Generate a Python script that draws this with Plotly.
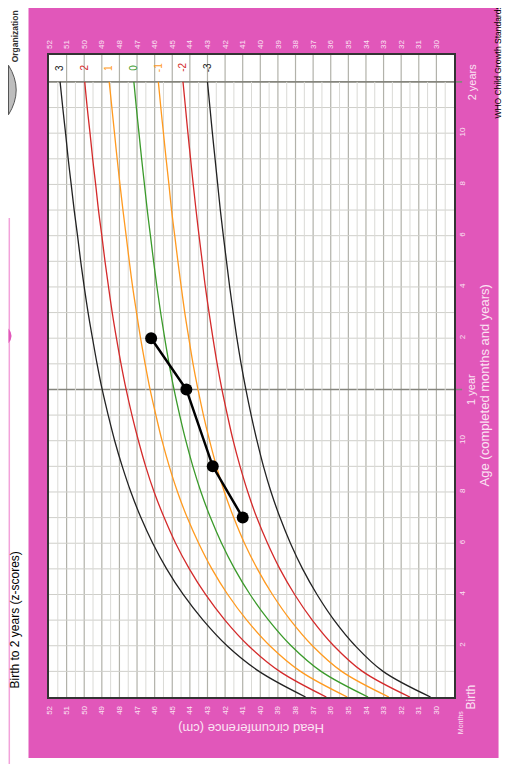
import numpy as np
import plotly.graph_objects as go

# WHO head circumference-for-age, girls, birth to 2 years (cm)
months = list(range(25))
hc_neg3 = [30.33, 33.03, 34.61, 35.81, 36.78, 37.60, 38.29, 38.88, 39.39, 39.82, 40.19, 40.52, 40.82,
           41.09, 41.33, 41.54, 41.74, 41.92, 42.10, 42.27, 42.42, 42.57, 42.72, 42.86, 43.00]
hc_neg2 = [31.51, 34.20, 35.83, 37.05, 38.05, 38.89, 39.59, 40.20, 40.71, 41.15, 41.54, 41.87, 42.18,
           42.45, 42.69, 42.91, 43.12, 43.30, 43.48, 43.65, 43.81, 43.96, 44.11, 44.25, 44.39]
hc_neg1 = [32.70, 35.38, 37.04, 38.29, 39.31, 40.17, 40.90, 41.51, 42.04, 42.49, 42.88, 43.23, 43.54,
           43.82, 44.06, 44.29, 44.49, 44.68, 44.86, 45.04, 45.19, 45.35, 45.50, 45.65, 45.79]
hc_0 = [33.88, 36.55, 38.25, 39.53, 40.58, 41.46, 42.20, 42.83, 43.37, 43.83, 44.23, 44.58, 44.90,
        45.18, 45.43, 45.66, 45.87, 46.06, 46.24, 46.42, 46.58, 46.74, 46.89, 47.04, 47.18]
hc_pos1 = [35.06, 37.72, 39.46, 40.77, 41.85, 42.75, 43.50, 44.15, 44.70, 45.17, 45.58, 45.93, 46.26,
           46.54, 46.80, 47.03, 47.25, 47.44, 47.62, 47.80, 47.97, 48.13, 48.28, 48.43, 48.58]
hc_pos2 = [36.25, 38.90, 40.67, 42.01, 43.11, 44.03, 44.81, 45.46, 46.03, 46.51, 46.92, 47.29, 47.62,
           47.91, 48.17, 48.41, 48.62, 48.82, 49.00, 49.19, 49.35, 49.52, 49.67, 49.83, 49.97]
hc_pos3 = [37.43, 40.07, 41.89, 43.25, 44.38, 45.32, 46.11, 46.78, 47.35, 47.84, 48.27, 48.64, 48.98,
           49.27, 49.53, 49.78, 50.00, 50.20, 50.38, 50.57, 50.74, 50.91, 51.06, 51.22, 51.37]

z_labels = ["3", "2", "1", "0", "-1", "-2", "-3"]
z_colors = ["#222222", "#d42a2a", "#ff9a1f", "#3a9a2a", "#ff9a1f", "#d42a2a", "#222222"]
z_curves = [hc_pos3, hc_pos2, hc_pos1, hc_0, hc_neg1, hc_neg2, hc_neg3]

# child's measurements
child_age = [7, 9, 12, 14]
child_hc = [41.0, 42.7, 44.2, 46.2]

hc_ticks = list(range(30, 53))
age_ticks = [2, 4, 6, 8, 10, 14, 16, 18, 20, 22]
age_ticktext = ["2", "4", "6", "8", "10", "2", "4", "6", "8", "10"]

PINK = "#e157ba"
TICK_C = "#fbe3f3"
FONT = "Liberation Sans, Arial, sans-serif"
x_rng = [52, 29]
y_rng = [0, 25.05]

fig = go.Figure()

for lab, col, hc in zip(z_labels, z_colors, z_curves):
    fig.add_trace(go.Scatter(x=hc, y=months, mode="lines", line=dict(color=col, width=1.3, shape="spline"),
                             showlegend=False, hoverinfo="skip"))
    fig.add_annotation(x=hc[-1], y=24.55, text=lab, textangle=-90, showarrow=False,
                       xanchor="center", yanchor="middle",
                       font=dict(color=col, size=10, family=FONT))

fig.add_trace(go.Scatter(x=child_hc, y=child_age, mode="lines+markers",
                         line=dict(color="black", width=2.5), marker=dict(color="black", size=12),
                         showlegend=False))
# helper trace so the top axis is drawn
fig.add_trace(go.Scatter(x=child_hc, y=child_age, xaxis="x2", mode="markers",
                         marker=dict(opacity=0), showlegend=False, hoverinfo="skip"))

shapes = [
    dict(type="rect", xref="paper", yref="paper", x0=-0.0506, x1=1.110, y0=-0.095, y1=1.078,
         fillcolor=PINK, line_width=0, layer="below"),
    dict(type="rect", xref="paper", yref="paper", x0=0, x1=1, y0=0, y1=1,
         fillcolor="white", line_width=0, layer="below"),
    dict(type="line", xref="paper", yref="paper", x0=-0.098, x1=-0.098, y0=-0.11, y1=0.746,
         line=dict(color="#f2a3da", width=1.5), layer="below"),
    # WHO emblem, mostly off the left edge
    dict(type="path", xref="paper", yref="paper",
         path="M -0.1,0.984 Q -0.062,0.9455 -0.1,0.907 Z",
         fillcolor="#bdbdbd", line=dict(color="#555", width=1), layer="below"),
    dict(type="path", xref="paper", yref="paper",
         path="M -0.1,0.574 Q -0.085,0.5625 -0.1,0.551 Z",
         fillcolor=PINK, line_width=0, layer="below"),
]
# grid
for v in np.arange(29.5, 52, 0.5):
    if v % 1 == 0:
        shapes.append(dict(type="line", xref="x", yref="paper", x0=v, x1=v, y0=0, y1=1,
                           line=dict(color="#b2b2aa", width=1.2), layer="below"))
    else:
        shapes.append(dict(type="line", xref="x", yref="y", x0=v, x1=v, y0=0, y1=24,
                           line=dict(color="#dadad6", width=1), layer="below"))
for m in range(1, 25):
    if m % 12 == 0:
        shapes.append(dict(type="line", xref="paper", yref="y", x0=0, x1=1.02, y0=m, y1=m,
                           line=dict(color="#85857d", width=1.6), layer="below"))
    else:
        shapes.append(dict(type="line", xref="paper", yref="y", x0=0, x1=1, y0=m, y1=m,
                           line=dict(color="#cfcfca", width=1), layer="below"))

annots = [
    dict(x=1.043, y=0, xref="paper", yref="y", text="Birth", textangle=-90, font=dict(size=12, color=TICK_C)),
    dict(x=1.016, y=-0.04, xref="paper", yref="paper", text="Months", textangle=-90, font=dict(size=7, color=TICK_C)),
    dict(x=1.043, y=12, xref="paper", yref="y", text="1 year", textangle=-90, font=dict(size=11, color=TICK_C)),
    dict(x=1.043, y=24, xref="paper", yref="y", text="2 years", textangle=-90, font=dict(size=11, color=TICK_C)),
    dict(x=1.076, y=12.15, xref="paper", yref="y", text="Age (completed months and years)", textangle=-90,
         font=dict(size=13, color=TICK_C)),
    dict(x=40.5, y=-0.048, xref="x", yref="paper", text="Head circumference (cm)", textangle=180,
         font=dict(size=13, color=TICK_C)),
    dict(x=-0.085, y=0.12, xref="paper", yref="paper", text="Birth to 2 years (z-scores)", textangle=-90,
         font=dict(size=12, color="black")),
    dict(x=-0.084, y=1.029, xref="paper", yref="paper", text="<b>Organization</b>", textangle=-90,
         font=dict(size=8.5, color="#333")),
    dict(x=1.11, y=0.989, xref="paper", yref="paper", text="WHO Child Growth Standards", textangle=-90,
         font=dict(size=8.5, color="black")),
]
for a in annots:
    fig.add_annotation(showarrow=False, xanchor="center", yanchor="middle", **a)

axis_font = dict(size=8, color=TICK_C, family=FONT)
# page body adds an 8px offset, so margins are shifted to compensate
fig.update_layout(
    width=515, height=764,
    margin=dict(l=41, r=69, t=47, b=75),
    paper_bgcolor="white", plot_bgcolor="white",
    font=dict(family=FONT),
    shapes=shapes,
    xaxis=dict(range=x_rng, showgrid=False, zeroline=False, tickvals=hc_ticks, tickangle=-90,
               tickfont=axis_font, ticks="", ticklabelstandoff=4,
               showline=True, linecolor="#333", linewidth=1.5, mirror=True),
    xaxis2=dict(range=x_rng, overlaying="x", side="top", showgrid=False, zeroline=False,
                tickvals=hc_ticks, tickangle=-90, tickfont=axis_font, ticks="", ticklabelstandoff=5),
    yaxis=dict(range=y_rng, side="right", showgrid=False, zeroline=False, tickvals=age_ticks,
               ticktext=age_ticktext, tickangle=-90, tickfont=axis_font, ticks="",
               showline=True, linecolor="#333", linewidth=1.5, mirror=True),
)

fig.write_html("out.html", config={"displayModeBar": False})
